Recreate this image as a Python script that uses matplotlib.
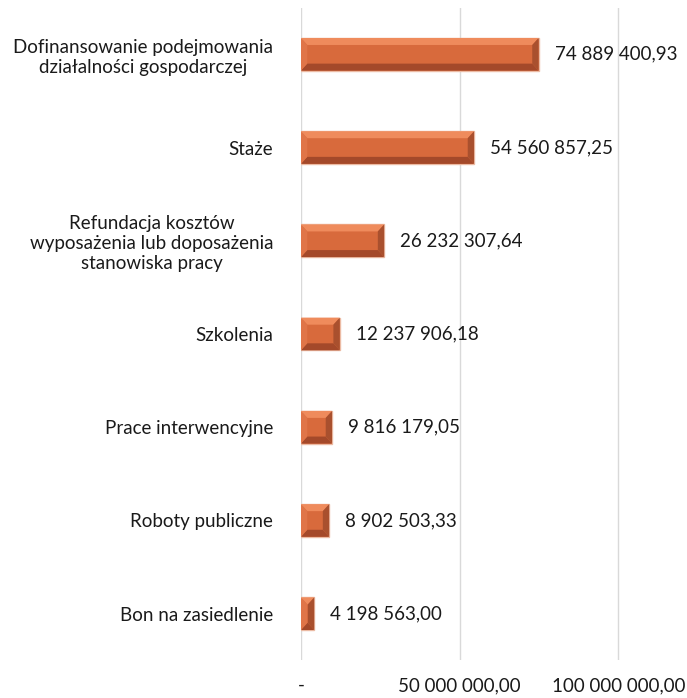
import matplotlib
matplotlib.use("Agg")
import matplotlib.pyplot as plt
from matplotlib.patches import Polygon, Rectangle

plt.rcParams['font.family'] = ['Lato', 'DejaVu Sans']

categories = [
    "Dofinansowanie podejmowania\ndziałalności gospodarczej",
    "Staże",
    "Refundacja kosztów\nwyposażenia lub doposażenia\nstanowiska pracy",
    "Szkolenia",
    "Prace interwencyjne",
    "Roboty publiczne",
    "Bon na zasiedlenie",
]
values = [74889400.93, 54560857.25, 26232307.64, 12237906.18,
          9816179.05, 8902503.33, 4198563.00]
value_labels = ["74 889 400,93", "54 560 857,25", "26 232 307,64", "12 237 906,18",
                "9 816 179,05", "8 902 503,33", "4 198 563,00"]
tick_values = [0, 50000000, 100000000]
tick_labels = ["-", "50 000 000,00", "100 000 000,00"]

c_main = "#d86a3c"
c_top = "#ef8b5c"
c_bot = "#a4492a"
c_side_l = "#e07548"
c_side_r = "#a9502e"
c_edge = "#ecbba4"

fig = plt.figure(figsize=(6.87, 6.98), dpi=100)
ax = fig.add_axes([0.438, 0.054, 0.559, 0.935])

n = len(categories)
ys = list(range(n))
h = 0.35
xmax = 121000000
bev_x = 2000000
bev_y = 0.075

for y, v in zip(ys, values):
    x0, x1 = 0, v
    y0, y1 = y - h / 2, y + h / 2   # y0 is visually top (axis inverted)
    bx = min(bev_x, v / 2)
    by = bev_y
    ax.add_patch(Rectangle((x0, y0), v, h, facecolor=c_main, edgecolor=c_edge, lw=1, zorder=3))
    ax.add_patch(Polygon([(x0, y0), (x1, y0), (x1 - bx, y0 + by), (x0 + bx, y0 + by)],
                         closed=True, facecolor=c_top, edgecolor='none', zorder=4))
    ax.add_patch(Polygon([(x0, y1), (x1, y1), (x1 - bx, y1 - by), (x0 + bx, y1 - by)],
                         closed=True, facecolor=c_bot, edgecolor='none', zorder=4))
    ax.add_patch(Polygon([(x0, y0), (x0 + bx, y0 + by), (x0 + bx, y1 - by), (x0, y1)],
                         closed=True, facecolor=c_side_l, edgecolor='none', zorder=4))
    ax.add_patch(Polygon([(x1, y0), (x1 - bx, y0 + by), (x1 - bx, y1 - by), (x1, y1)],
                         closed=True, facecolor=c_side_r, edgecolor='none', zorder=4))

ax.set_xlim(0, xmax)
ax.set_ylim(n - 0.5, -0.5)
ax.set_yticks(ys)
ax.set_yticklabels(categories, multialignment='center', linespacing=1.2)
ax.set_xticks(tick_values)
ax.set_xticklabels(tick_labels)
ax.tick_params(axis='both', length=0, labelsize=13.5, colors='#1a1a1a')
ax.tick_params(axis='y', pad=20)
ax.tick_params(axis='x', pad=12)
ax.grid(axis='x', color='#d9d9d9', lw=1, zorder=0)
ax.set_axisbelow(True)
for s in ax.spines.values():
    s.set_visible(False)

for y, v, lab in zip(ys, values, value_labels):
    ax.annotate(lab, (v, y), xytext=(16, 0), textcoords='offset pixels',
                va='center', ha='left', fontsize=13.5, color='#1a1a1a')

fig.savefig("out.png", dpi=100)
